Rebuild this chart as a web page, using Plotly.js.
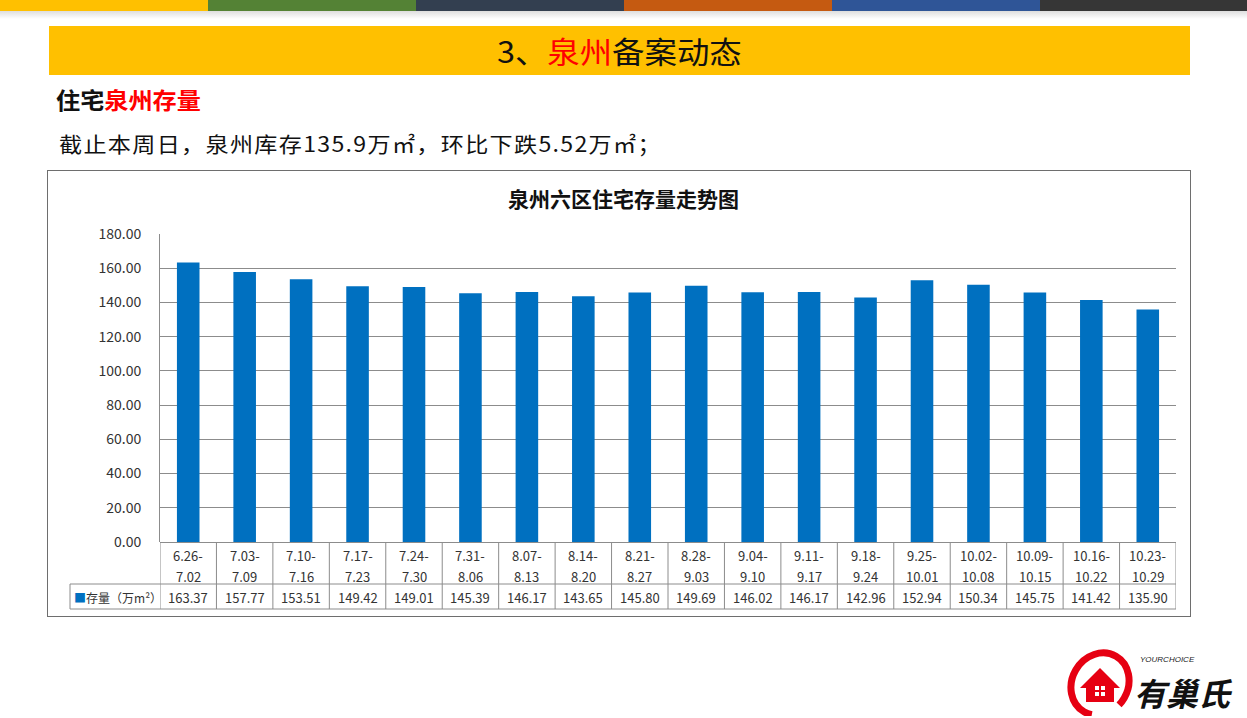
<!DOCTYPE html>
<html>
<head>
<meta charset="utf-8">
<script src="https://cdn.plot.ly/plotly-3.0.1.min.js"></script>
<style>
  html, body { margin:0; padding:0; background:#fff; width:1247px; height:718px; overflow:hidden;
    font-family:"Noto Sans CJK SC","Noto Sans",sans-serif; }
  .stripe { position:absolute; top:0; height:11px; width:208px; }
  .fade { position:absolute; top:11px; left:0; width:1247px; height:8px;
    background:linear-gradient(to bottom, rgba(200,200,200,0.6), rgba(255,255,255,0)); }
  #hdr { position:absolute; left:49px; top:26px; width:1141px; height:49px; background:#FFC000;
    text-align:center; line-height:49px; font-size:30px; color:#111; }
  #hdr span.in { display:inline-block; transform:scaleX(1.08); }
  #sub { position:absolute; left:56px; top:82px; font-size:23px; font-weight:bold; color:#111;
    transform:scaleX(1.05); transform-origin:left center; }
  #desc { position:absolute; left:59px; top:128px; font-size:21px; color:#111; letter-spacing:1.2px;
    transform:scaleX(1.1); transform-origin:left center; white-space:nowrap; }
  #box { position:absolute; left:47px; top:170px; width:1142px; height:445px; border:1px solid #6e6e6e; }
  #plot { position:absolute; left:0; top:0; width:1247px; height:718px; }
  #logo { position:absolute; left:1062px; top:648px; }
</style>
</head>
<body>
<div class="stripe" style="left:0;background:#FFC000"></div>
<div class="stripe" style="left:208px;background:#548235"></div>
<div class="stripe" style="left:416px;background:#333F50"></div>
<div class="stripe" style="left:624px;background:#C55A11"></div>
<div class="stripe" style="left:832px;background:#2F5597"></div>
<div class="stripe" style="left:1040px;width:207px;background:#363636"></div>
<div class="fade"></div>
<div id="hdr"><span class="in">3、<span style="color:#FF0000">泉州</span>备案动态</span></div>
<div id="sub">住宅<span style="color:#FF0000">泉州存量</span></div>
<div id="desc">截止本周日，泉州库存135.9万㎡，环比下跌5.52万㎡；</div>
<div id="box"></div>
<svg id="logo" width="185" height="68" viewBox="0 0 185 68">
  <ellipse cx="38" cy="36" rx="32" ry="28" fill="none" stroke="#E60012" stroke-width="7" stroke-dasharray="150 30" transform="rotate(120 38 36)"/>
  <path d="M18 40 L38 20 L58 40 L52 40 L52 54 L24 54 L24 40 Z" fill="#E60012"/>
  <rect x="33" y="38" width="4" height="4" fill="#fff"/><rect x="39" y="38" width="4" height="4" fill="#fff"/>
  <rect x="33" y="44" width="4" height="4" fill="#fff"/><rect x="39" y="44" width="4" height="4" fill="#fff"/>
  <text x="78" y="14" font-size="8" font-style="italic" font-family="Liberation Sans" fill="#222">YOURCHOICE</text>
  <text x="72" y="58" font-size="32" font-weight="bold" font-style="italic" font-family="Noto Sans CJK SC" fill="#111">有巢氏</text>
</svg>
<div id="plot"></div>
<script>
const categories = ["6.26-7.02","7.03-7.09","7.10-7.16","7.17-7.23","7.24-7.30","7.31-8.06","8.07-8.13","8.14-8.20","8.21-8.27","8.28-9.03","9.04-9.10","9.11-9.17","9.18-9.24","9.25-10.01","10.02-10.08","10.09-10.15","10.16-10.22","10.23-10.29"];
const stock = [163.37,157.77,153.51,149.42,149.01,145.39,146.17,143.65,145.80,149.69,146.02,146.17,142.96,152.94,150.34,145.75,141.42,135.90];
const seriesName = "存量（万m²）";
const chartTitle = "泉州六区住宅存量走势图";

// plot area in pixels
const L = 160, R = 1176, T = 234, B = 542;
const W = 1247, H = 718;
const py = p => (B - p) / (B - T);
const pxp = p => (p - L) / (R - L);

const FONT = '"Noto Sans CJK SC","Noto Sans",sans-serif';
const lineCol = '#8c8c8c';

const annotations = [];
const shapes = [];
const rowTop = B, rowMid = 584, rowBot = 609;

categories.forEach((c, i) => {
  const parts = c.split('-');
  annotations.push({x: c, xref: 'x', y: py(555), yref: 'paper', text: parts[0] + '-', showarrow: false,
    font: {size: 13, color: '#333', family: FONT}, xanchor: 'center', yanchor: 'middle'});
  annotations.push({x: c, xref: 'x', y: py(576), yref: 'paper', text: parts[1], showarrow: false,
    font: {size: 13, color: '#333', family: FONT}, xanchor: 'center', yanchor: 'middle'});
  annotations.push({x: c, xref: 'x', y: py(597), yref: 'paper', text: stock[i].toFixed(2), showarrow: false,
    font: {size: 13, color: '#333', family: FONT}, xanchor: 'center', yanchor: 'middle'});
});
annotations.push({x: pxp(72), xref: 'paper', y: py(597), yref: 'paper', xanchor: 'left', yanchor: 'middle',
  text: '<span style="color:#0070C0">■</span>' + seriesName, showarrow: false,
  font: {size: 12, color: '#333', family: FONT}});

// table grid
for (let i = 0; i <= categories.length; i++) {
  shapes.push({type: 'line', xref: 'x', yref: 'paper', x0: i - 0.5, x1: i - 0.5, y0: py(rowTop), y1: py(rowBot),
    line: {color: lineCol, width: 1}});
}
shapes.push({type: 'line', xref: 'paper', yref: 'paper', x0: pxp(70), x1: 1, y0: py(rowMid), y1: py(rowMid), line: {color: lineCol, width: 1}});
shapes.push({type: 'line', xref: 'paper', yref: 'paper', x0: pxp(70), x1: 1, y0: py(rowBot), y1: py(rowBot), line: {color: lineCol, width: 1}});
shapes.push({type: 'line', xref: 'paper', yref: 'paper', x0: pxp(70), x1: pxp(70), y0: py(rowMid), y1: py(rowBot), line: {color: lineCol, width: 1}});

const data = [{
  type: 'bar', x: categories, y: stock, name: seriesName,
  marker: {color: '#0070C0'}, width: 0.4, hoverinfo: 'x+y'
}];

const layout = {
  width: W, height: H,
  margin: {l: L, r: W - R, t: T, b: H - B, pad: 0},
  paper_bgcolor: 'rgba(0,0,0,0)', plot_bgcolor: 'rgba(0,0,0,0)',
  showlegend: false,
  title: {text: '<b>' + chartTitle + '</b>', xref: 'container', x: 0.5, yref: 'container', y: 1 - 200 / H,
    xanchor: 'center', yanchor: 'middle', font: {size: 21, color: '#111', family: FONT}},
  xaxis: {type: 'category', showticklabels: false, showgrid: false, zeroline: false, showline: false,
    range: [-0.5, categories.length - 0.5], fixedrange: true},
  yaxis: {range: [0, 180], dtick: 20, tickformat: '.2f', showgrid: true, gridcolor: lineCol, gridwidth: 1,
    zeroline: true, zerolinecolor: lineCol, showline: true, linecolor: lineCol, linewidth: 1,
    ticks: 'outside', ticklen: 15, tickcolor: 'rgba(0,0,0,0)',
    tickfont: {size: 14, color: '#333', family: FONT}, fixedrange: true},
  annotations: annotations,
  shapes: shapes
};

Plotly.newPlot('plot', data, layout, {displayModeBar: false, staticPlot: true});
</script>
</body>
</html>
